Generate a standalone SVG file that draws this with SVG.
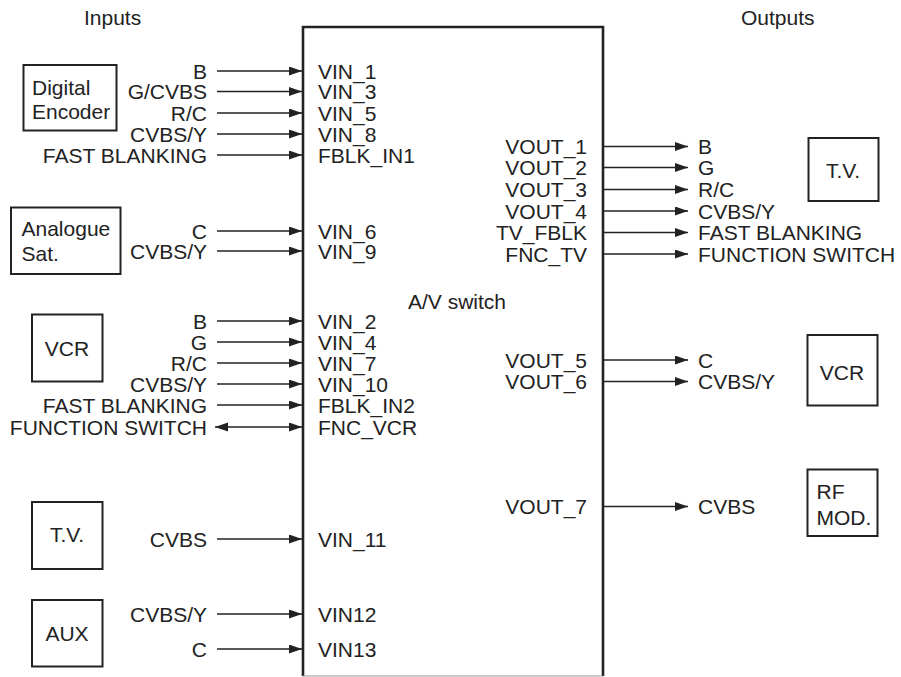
<svg xmlns="http://www.w3.org/2000/svg" width="901" height="677" viewBox="0 0 901 677">
<defs>
<marker id="ah" markerUnits="userSpaceOnUse" markerWidth="14" markerHeight="10" refX="13" refY="4.5" orient="auto-start-reverse">
<path d="M0,0 L13,4.5 L0,9 z" fill="#222"/>
</marker>
</defs>
<style>
text{font-family:"Liberation Sans",Arial,sans-serif;font-size:21px;fill:#222}
.r{text-anchor:end}
.c{text-anchor:middle}
.box{fill:none;stroke:#222;stroke-width:2}
.w{stroke:#222;stroke-width:1.3;fill:none;marker-end:url(#ah)}
.bi{marker-start:url(#ah)}
</style>
<rect width="901" height="677" fill="#fff"/>
<text x="84" y="25">Inputs</text>
<text x="741" y="25">Outputs</text>

<g id="switch">
<path d="M303,676 V27 H603 V676" fill="none" stroke="#222" stroke-width="2.6"/>
<line x1="303" y1="676" x2="603" y2="676" stroke="#999" stroke-width="1"/>
<text x="457" y="309" class="c">A/V switch</text>
<text x="318" y="78.5">VIN_1</text>
<text x="318" y="99">VIN_3</text>
<text x="318" y="120.5">VIN_5</text>
<text x="318" y="141.5">VIN_8</text>
<text x="318" y="162.5">FBLK_IN1</text>
<text x="318" y="238.5">VIN_6</text>
<text x="318" y="258.5">VIN_9</text>
<text x="318" y="328.5">VIN_2</text>
<text x="318" y="349.5">VIN_4</text>
<text x="318" y="370.5">VIN_7</text>
<text x="318" y="391.5">VIN_10</text>
<text x="318" y="412.5">FBLK_IN2</text>
<text x="318" y="434.5">FNC_VCR</text>
<text x="318" y="546.5">VIN_11</text>
<text x="318" y="621.5">VIN12</text>
<text x="318" y="656.5">VIN13</text>
<text x="587" y="154" class="r">VOUT_1</text>
<text x="587" y="175" class="r">VOUT_2</text>
<text x="587" y="197" class="r">VOUT_3</text>
<text x="587" y="218.5" class="r">VOUT_4</text>
<text x="587" y="240" class="r">TV_FBLK</text>
<text x="587" y="261.5" class="r">FNC_TV</text>
<text x="587" y="367.5" class="r">VOUT_5</text>
<text x="587" y="389" class="r">VOUT_6</text>
<text x="587" y="514" class="r">VOUT_7</text>
</g>

<g id="digital-encoder">
<rect x="23.5" y="65" width="93" height="65.5" class="box"/>
<text x="32" y="94.5">Digital</text>
<text x="32" y="119">Encoder</text>
</g>
<g id="analogue-sat">
<rect x="11" y="207.5" width="109.5" height="66.5" class="box"/>
<text x="21.5" y="236">Analogue</text>
<text x="21.5" y="261">Sat.</text>
</g>
<g id="vcr-in">
<rect x="32" y="314.5" width="70.5" height="67" class="box"/>
<text x="67" y="356" class="c">VCR</text>
</g>
<g id="tv-in">
<rect x="32" y="502" width="70.5" height="67" class="box"/>
<text x="67" y="542" class="c">T.V.</text>
</g>
<g id="aux">
<rect x="32" y="600" width="70.5" height="66.5" class="box"/>
<text x="67" y="641" class="c">AUX</text>
</g>
<g id="tv-out">
<rect x="808.5" y="138" width="70" height="63" class="box"/>
<text x="843" y="178" class="c">T.V.</text>
</g>
<g id="vcr-out">
<rect x="807.5" y="335" width="70" height="70.5" class="box"/>
<text x="842" y="380" class="c">VCR</text>
</g>
<g id="rf-mod">
<rect x="807.5" y="469.5" width="70" height="66.5" class="box"/>
<text x="816.5" y="499">RF</text>
<text x="816.5" y="524.5">MOD.</text>
</g>

<g id="input-labels">
<text x="207" y="78.5" class="r">B</text>
<text x="207" y="99" class="r">G/CVBS</text>
<text x="207" y="120.5" class="r">R/C</text>
<text x="207" y="141.5" class="r">CVBS/Y</text>
<text x="207" y="162.5" class="r">FAST BLANKING</text>
<text x="207" y="238.5" class="r">C</text>
<text x="207" y="258.5" class="r">CVBS/Y</text>
<text x="207" y="328.5" class="r">B</text>
<text x="207" y="349.5" class="r">G</text>
<text x="207" y="370.5" class="r">R/C</text>
<text x="207" y="391.5" class="r">CVBS/Y</text>
<text x="207" y="412.5" class="r">FAST BLANKING</text>
<text x="207" y="434.5" class="r">FUNCTION SWITCH</text>
<text x="207" y="546.5" class="r">CVBS</text>
<text x="207" y="621.5" class="r">CVBS/Y</text>
<text x="207" y="656.5" class="r">C</text>
</g>
<g id="output-labels">
<text x="698" y="154">B</text>
<text x="698" y="175">G</text>
<text x="698" y="197">R/C</text>
<text x="698" y="218.5">CVBS/Y</text>
<text x="698" y="240">FAST BLANKING</text>
<text x="698" y="261.5">FUNCTION SWITCH</text>
<text x="698" y="367.5">C</text>
<text x="698" y="389">CVBS/Y</text>
<text x="698" y="514">CVBS</text>
</g>

<g id="connectors">
<line x1="217" y1="71" x2="302" y2="71" class="w"/>
<line x1="217" y1="91.5" x2="302" y2="91.5" class="w"/>
<line x1="217" y1="113" x2="302" y2="113" class="w"/>
<line x1="217" y1="134" x2="302" y2="134" class="w"/>
<line x1="217" y1="155" x2="302" y2="155" class="w"/>
<line x1="217" y1="231" x2="302" y2="231" class="w"/>
<line x1="217" y1="251" x2="302" y2="251" class="w"/>
<line x1="217" y1="321" x2="302" y2="321" class="w"/>
<line x1="217" y1="342" x2="302" y2="342" class="w"/>
<line x1="217" y1="363" x2="302" y2="363" class="w"/>
<line x1="217" y1="384" x2="302" y2="384" class="w"/>
<line x1="217" y1="405" x2="302" y2="405" class="w"/>
<line x1="215" y1="427" x2="302" y2="427" class="w bi"/>
<line x1="217" y1="539" x2="302" y2="539" class="w"/>
<line x1="217" y1="614" x2="302" y2="614" class="w"/>
<line x1="217" y1="649" x2="302" y2="649" class="w"/>
<line x1="604" y1="146.5" x2="688" y2="146.5" class="w"/>
<line x1="604" y1="167.5" x2="688" y2="167.5" class="w"/>
<line x1="604" y1="189.5" x2="688" y2="189.5" class="w"/>
<line x1="604" y1="211" x2="688" y2="211" class="w"/>
<line x1="604" y1="232.5" x2="688" y2="232.5" class="w"/>
<line x1="604" y1="254" x2="688" y2="254" class="w"/>
<line x1="604" y1="360" x2="688" y2="360" class="w"/>
<line x1="604" y1="381.5" x2="688" y2="381.5" class="w"/>
<line x1="604" y1="506.5" x2="688" y2="506.5" class="w"/>
</g>
</svg>
